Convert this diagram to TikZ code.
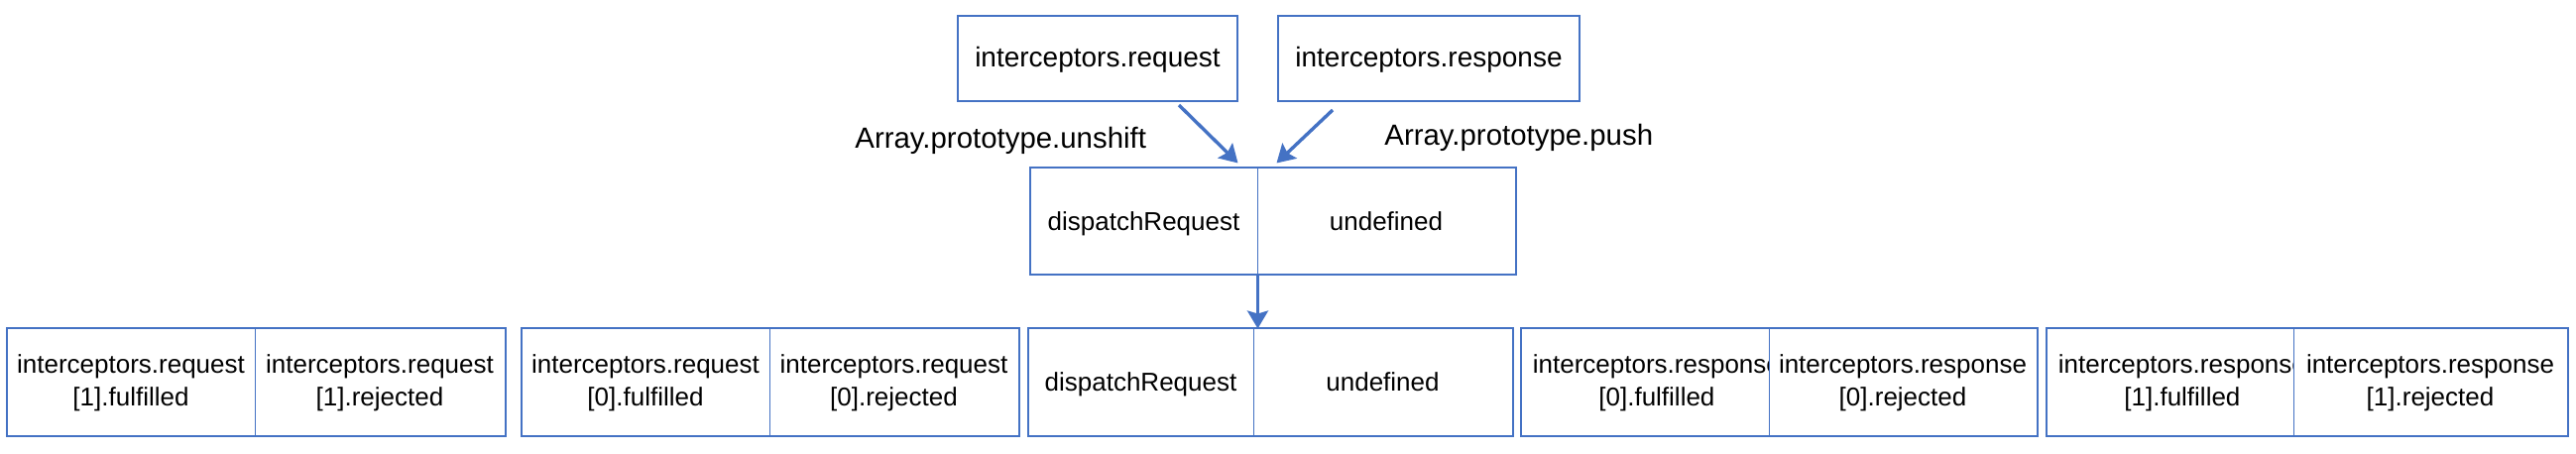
\documentclass[tikz,border=0pt]{standalone}
\usepackage{fontspec}
\setmainfont{Liberation Sans}
\usetikzlibrary{arrows.meta}
\definecolor{boxblue}{HTML}{4472C4}

\begin{document}
\begin{tikzpicture}[
  x=0.5pt, y=-0.5pt,
  every node/.style={align=center},
  arr/.style={-{Stealth[length=9pt, width=10.5pt, inset=1.5pt]}, line width=1.7pt, draw=boxblue},
  box/.style={rectangle, draw=boxblue, line width=1pt, minimum height=43pt, inner sep=0pt,
              font=\fontsize{14pt}{17pt}\selectfont},
  txt/.style={inner sep=0pt, font=\fontsize{13pt}{16.5pt}\selectfont},
  cell/.style={txt, rectangle, draw=boxblue, line width=0.5pt, fill=white, minimum height=54pt},
  one/.style={text height=11pt, text depth=2pt},
  frame/.style={draw=boxblue, line width=1pt},
  lbl/.style={inner sep=0pt, font=\fontsize{14.7pt}{17pt}\selectfont},
]
\useasboundingbox (0,0) rectangle (2598,458);

% ---------------------------------------------------------------- top row
\node[box, one, minimum width=141pt] (req)  at (1107,59) {interceptors.request};
\node[box, one, minimum width=152pt] (resp) at (1441,59) {interceptors.response};

\node[lbl, anchor=base west] (unshift) at (862,150)  {Array.prototype.unshift};
\node[lbl, anchor=base west] (push)    at (1396,147) {Array.prototype.push};

% ---------------------------------------------------------- dispatch pair
\node[cell, one, minimum width=114.5pt, minimum height=53.5pt] (dl) at (1153.5,223.5) {dispatchRequest};
\node[cell, one, minimum width=130pt,   minimum height=53.5pt] (dr) at (1398,223.5)   {undefined};
\draw[frame] (dl.north west) rectangle (dr.south east);

\draw[arr] ([xshift=-30pt, yshift=-1.5pt]req.south east) -- ([xshift=-10pt, yshift=2.5pt]dl.north east);
\draw[arr] ([xshift=28pt, yshift=-4pt]resp.south west) -- ([xshift=10pt, yshift=2.5pt]dr.north west);

% ------------------------------------------------------------- chain row
\node[cell, minimum width=125pt] (b1l) at (132,386)   {interceptors.request\\{}[1].fulfilled};
\node[cell, minimum width=126pt] (b1r) at (383,386)   {interceptors.request\\{}[1].rejected};
\draw[frame] (b1l.north west) rectangle (b1r.south east);

\node[cell, minimum width=125pt] (b2l) at (651,386)   {interceptors.request\\{}[0].fulfilled};
\node[cell, minimum width=125.5pt] (b2r) at (901.5,386) {interceptors.request\\{}[0].rejected};
\draw[frame] (b2l.north west) rectangle (b2r.south east);

\node[cell, one, minimum width=113.5pt] (b3l) at (1150.5,386) {dispatchRequest};
\node[cell, one, minimum width=130.5pt] (b3r) at (1394.5,386) {undefined};
\draw[frame] (b3l.north west) rectangle (b3r.south east);

\node[cell, minimum width=125pt] (b4l) at (1659,386) {};
\node[txt, anchor=west] (b4t) at ([xshift=6pt]b4l.west) {interceptors.response\\{}[0].fulfilled};
\node[cell, minimum width=135pt] (b4r) at (1919,386) {interceptors.response\\{}[0].rejected};
\draw[frame] (b4l.north west) rectangle (b4r.south east);

\node[cell, minimum width=124.5pt] (b5l) at (2188.5,386) {};
\node[txt, anchor=west] (b5t) at ([xshift=6pt]b5l.west) {interceptors.response\\{}[1].fulfilled};
\node[cell, minimum width=138pt] (b5r) at (2451,386) {interceptors.response\\{}[1].rejected};
\draw[frame] (b5l.north west) rectangle (b5r.south east);

\draw[arr] (dl.south east) -- (dl.south east |- b3l.north);

\end{tikzpicture}
\end{document}
